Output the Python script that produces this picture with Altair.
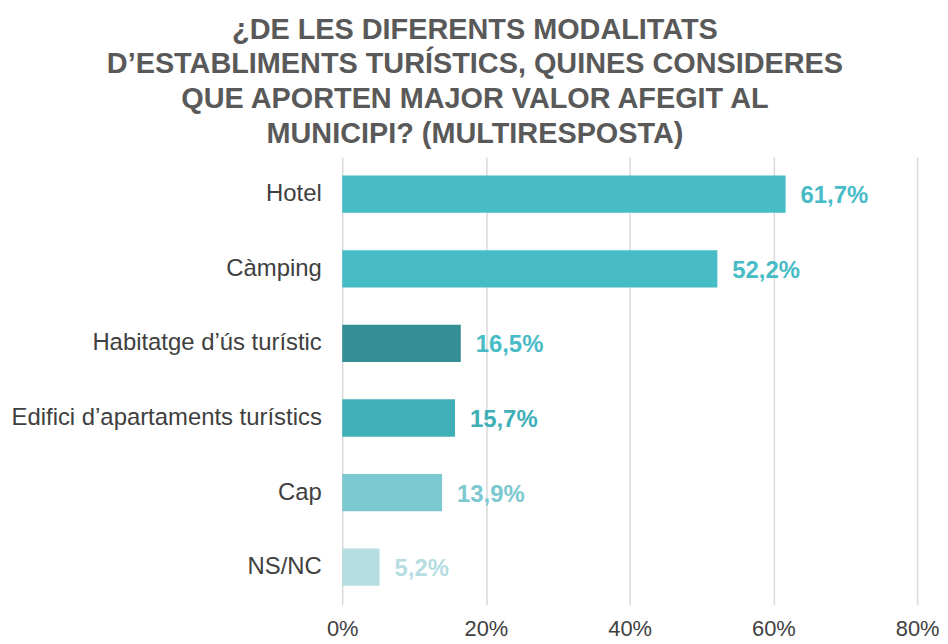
import altair as alt
import pandas as pd

categories = ["Hotel", "Càmping", "Habitatge d’ús turístic", "Edifici d’apartaments turístics", "Cap", "NS/NC"]
values = [61.7, 52.2, 16.5, 15.7, 13.9, 5.2]
bar_colors = ["#47BBC6", "#47BBC6", "#348E94", "#40AFB8", "#7CC8D0", "#B5DDE2"]
label_colors = ["#47BBC6", "#47BBC6", "#47BBC6", "#40AFB8", "#7CC8D0", "#B5DDE2"]
x_ticks = [0, 20, 40, 60, 80]
title_lines = [
    "¿DE LES DIFERENTS MODALITATS",
    "D’ESTABLIMENTS TURÍSTICS, QUINES CONSIDERES",
    "QUE APORTEN MAJOR VALOR AFEGIT AL",
    "MUNICIPI? (MULTIRESPOSTA)",
]

df = pd.DataFrame({
    "cat": categories,
    "val": values,
    "bar_color": bar_colors,
    "label_color": label_colors,
})

base = alt.Chart(df).encode(
    y=alt.Y(
        "cat:N",
        sort=categories,
        title=None,
        scale=alt.Scale(paddingInner=0.5, paddingOuter=0.25),
        axis=alt.Axis(
            domain=False, ticks=False, labelFont="Liberation Sans",
            labelFontSize=24, labelColor="#404040", labelPadding=21,
            labelLimit=400,
        ),
    ),
)

bars = base.mark_bar().encode(
    x=alt.X(
        "val:Q",
        title=None,
        scale=alt.Scale(domain=[0, 80]),
        axis=alt.Axis(
            values=x_ticks, labelExpr="datum.value + '%'", domain=False,
            ticks=False, grid=True, gridColor="#D9D9D9", gridWidth=1.5,
            labelFont="Liberation Sans", labelFontSize=22, labelColor="#404040",
            labelPadding=14, labelFlush=False,
        ),
    ),
    color=alt.Color("bar_color:N", scale=None),
)

labels = base.mark_text(
    align="left", baseline="middle", dx=15, dy=2, fontSize=24, fontWeight="bold",
    font="Liberation Sans",
).transform_calculate(
    txt="replace(format(datum.val, '.1f'), '.', ',') + '%'"
).encode(
    x="val:Q",
    text="txt:N",
    color=alt.Color("label_color:N", scale=None),
)

chart = (bars + labels).properties(
    width=578,
    height=450,
    padding={"left": 2, "top": 6, "right": 0, "bottom": 0},
    title=alt.TitleParams(
        text=title_lines,
        font="Liberation Sans",
        fontSize=29,
        fontWeight="bold",
        color="#595959",
        lineHeight=35,
        anchor="middle",
        frame="bounds",
        offset=8,
    ),
).configure_view(stroke=None)

chart.save("out.html", embed_options={"renderer": "svg", "actions": False})
